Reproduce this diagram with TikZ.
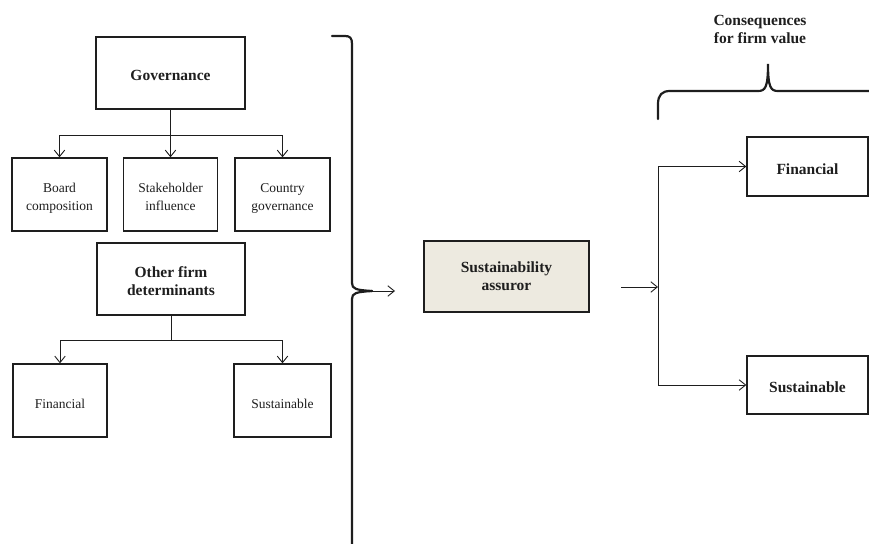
\documentclass[tikz,border=0pt]{standalone}
\usepackage{fontspec}
\setmainfont{Liberation Serif}
\usetikzlibrary{arrows.meta}
\definecolor{assurfill}{RGB}{237,234,224}
\definecolor{ink}{RGB}{30,30,30}
\begin{document}
\begin{tikzpicture}[x=1pt,y=-1pt,
  box/.style={draw=ink, line width=1.4pt, inner sep=0pt, align=center, text=ink,
    font=\fontsize{13.5}{18}\selectfont,
    execute at begin node=\rule{0pt}{20.6pt}, execute at end node=\rule[-5.4pt]{0pt}{5.4pt}},
  twolines/.style={execute at begin node=\rule{0pt}{#1pt}},
  bbox/.style={box, font=\fontsize{15.5}{18}\selectfont\bfseries},
  sz/.style 2 args={minimum width=#1pt, minimum height=#2pt},
  conn/.style={line width=0.9pt, draw=ink},
  arr/.style={conn, -{Straight Barb[length=6.5pt,width=10.5pt,line width=0.9pt]}},
  bracestyle/.style={line width=2.2pt, draw=ink, line cap=round}]
\useasboundingbox (0,0) rectangle (869,543);

% left tree
\node[bbox, sz={149}{72}] (gov) at (170.5,73) {Governance};
\node[box, twolines=37, sz={95}{73}] (board) at (59.5,194.5) {Board\\composition};
\node[box, twolines=37, sz={94}{73}] (stake) at (170.5,194.5) {Stakeholder\\influence};
\node[box, twolines=37, sz={95}{73}] (country) at (282.5,194.5) {Country\\governance};
\node[bbox, twolines=38.5, sz={148}{72}] (other) at (171,279) {Other firm\\determinants};
\node[box, sz={94}{73}] (finl) at (60,400.5) {Financial};
\node[box, sz={97}{73}] (sustl) at (282.5,400.5) {Sustainable};

\draw[conn] (gov.south) -- ++(0,26) coordinate (gj);
\draw[arr] (gj) -| (board.north);
\draw[arr] (gj) -| (country.north);
\draw[arr] (gj) -- (stake.north);
\draw[conn] (other.south) -- ++(0,25) coordinate (oj);
\draw[arr] (oj) -| (finl.north);
\draw[arr] (oj) -| (sustl.north);

% big bracket
\coordinate (btip) at (372,291);
\coordinate (bend) at (395,291);
\draw[bracestyle] (332,36) -- (345,36) .. controls (350,36) and (352,38) .. (352,44)
  -- (352,283) .. controls (352,289) and (356,290) .. (btip);
\draw[bracestyle] (352,545) -- (352,299) .. controls (352,293) and (356,292) .. (btip);
\draw[arr] (btip) -- (bend);

% assuror
\node[bbox, twolines=34, sz={165}{71}, fill=assurfill] (assur) at (506.5,276.5) {Sustainability\\assuror};

% right side
\node[bbox, sz={121}{59}] (finr) at (807.5,166.5) {Financial};
\node[bbox, sz={121}{58}] (sustr) at (807.5,385) {Sustainable};
\coordinate (rstart) at (621,287);
\coordinate (rj) at (658,287);
\draw[arr] (rstart) -- (rj);
\draw[arr] (rj) |- (finr.west);
\draw[arr] (rj) |- (sustr.west);

% top brace and label
\draw[bracestyle] (658,119) -- (658,104) .. controls (658,95) and (662,91) .. (670,91)
  -- (758,91) .. controls (765,91) and (768,88) .. (768,64)
  .. controls (768,88) and (771,91) .. (778,91) -- (871,91);
\node[align=center, text=ink, font=\fontsize{15.5}{18}\selectfont\bfseries] (cons) at (760,29.5) {Consequences\\for firm value};
\end{tikzpicture}
\end{document}
